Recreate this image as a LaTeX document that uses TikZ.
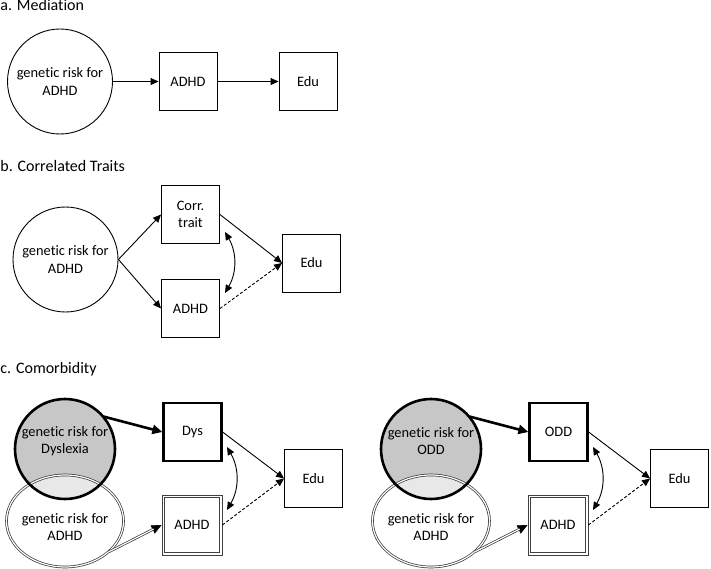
\documentclass[tikz,border=0pt]{standalone}
\usepackage{fontspec}
\setmainfont{Carlito}[Ligatures=NoCommon]
\usepackage{tikz}
\usetikzlibrary{arrows.meta,shapes.geometric}

\begin{document}
\begin{tikzpicture}[x=1pt, y=-1pt,
    font=\fontsize{14.4}{17.3}\selectfont,
    line width=0.9pt,
    >={Triangle[length=8pt,width=7pt]},
    title/.style={anchor=base west, inner sep=0pt, font=\fontsize{16}{19}\selectfont},
    box/.style={draw, line width=0.9pt, minimum size=58pt, inner sep=0pt, align=center},
    risk/.style={circle, draw, line width=0.9pt, minimum size=105pt, inner sep=0pt, align=center},
    riskfill/.style={circle, fill=black!22, minimum size=100pt, inner sep=0pt},
    riskdbl/.style={ellipse, draw=black!80, double=white, double distance=1.2pt, line width=0.7pt,
      fill=white, fill opacity=0.6, minimum width=117pt, minimum height=92pt, inner sep=0pt},
    txt/.style={align=center, inner sep=0pt},
    thickbox/.style={box, line width=2.2pt},
    outerbox/.style={box, draw=black!75, line width=0.8pt, minimum size=60pt},
    innerbox/.style={box, draw=black!75, line width=0.8pt, minimum size=55.5pt},
    dblline/.style={draw=black!80, double=white, double distance=1.2pt, line width=0.7pt},
    thickline/.style={line width=2.6pt},
    bigtip/.style={>={Triangle[length=10pt,width=9pt]}},
    dashline/.style={dash pattern=on 3pt off 2pt}
  ]
  \useasboundingbox (0,0) rectangle (711,569);

  % a. mediation
  \node[title] (ta) at (0,11) {a. Mediation};
  \node[risk] (ga) at (60,81.5) {genetic risk for\\ADHD};
  \node[box] (adhda) at (188,81.5) {ADHD};
  \node[box] (edua) at (308,81.5) {Edu};
  \path[->]
    (ga) edge (adhda)
    (adhda) edge (edua)
    ;

  % b. correlated traits
  \node[title] (tb) at (0,172) {b. Correlated Traits};
  \node[risk] (gb) at (65.5,259.5) {genetic risk for\\ADHD};
  \node[box] (corr) at (190.5,214.5) {Corr.\\trait};
  \node[box] (adhdb) at (190.5,308.5) {ADHD};
  \node[box] (edub) at (311.5,263) {Edu};
  \coordinate (b1) at (225,232);
  \coordinate (b2) at (225,293);
  \path[->]
    (gb.east) edge (corr.west)
    (gb.east) edge (adhdb.west)
    (corr.east) edge (edub.west)
    ;
  \path[->,dashline] (adhdb.east) edge (edub.west);
  \path[<->] (b1) edge[bend left=30] (b2);

  % c. comorbidity, dyslexia
  \node[title] (tc) at (0,373) {c. Comorbidity};
  \node[riskfill] (gd) at (65,449) {};
  \node[txt] (gdt) at (65,441) {genetic risk for\\Dyslexia};
  \node[riskdbl] (gl) at (65,521) {};
  \draw[thickline] (gd.center) circle[radius=50];
  \node[txt] (glt) at (65,527) {genetic risk for\\ADHD};
  \node[thickbox] (dys) at (192.5,432) {Dys};
  \node[outerbox] (adhdc) at (192,525) {};
  \node[innerbox] (adhdci) at (adhdc) {ADHD};
  \node[box] (educ) at (313.5,478.5) {Edu};
  \coordinate (c1) at (227,447);
  \coordinate (c2) at (227,510);
  \path[->,thickline,bigtip] (gd.40) edge (dys.west);
  \path[->,bigtip,line width=0.6pt] (gl.-35) edge (adhdc.west);
  \draw[dblline,shorten >=9pt] (gl.-35) -- (adhdc.west);
  \path[->] (dys.east) edge (educ.west);
  \path[->,dashline] (adhdc.east) edge (educ.west);
  \path[<->] (c1) edge[bend left=30] (c2);

  % c. comorbidity, odd
  \node[riskfill] (go) at (431,449) {};
  \node[txt] (got) at (431,441) {genetic risk for\\ODD};
  \node[riskdbl] (gr) at (431,521) {};
  \draw[thickline] (go.center) circle[radius=50];
  \node[txt] (grt) at (431,527) {genetic risk for\\ADHD};
  \node[thickbox] (odd) at (558.5,432) {ODD};
  \node[outerbox] (adhdr) at (558,525) {};
  \node[innerbox] (adhdri) at (adhdr) {ADHD};
  \node[box] (edur) at (679.5,478.5) {Edu};
  \coordinate (r1) at (593,447);
  \coordinate (r2) at (593,510);
  \path[->,thickline,bigtip] (go.40) edge (odd.west);
  \path[->,bigtip,line width=0.6pt] (gr.-35) edge (adhdr.west);
  \draw[dblline,shorten >=9pt] (gr.-35) -- (adhdr.west);
  \path[->] (odd.east) edge (edur.west);
  \path[->,dashline] (adhdr.east) edge (edur.west);
  \path[<->] (r1) edge[bend left=30] (r2);
\end{tikzpicture}
\end{document}
